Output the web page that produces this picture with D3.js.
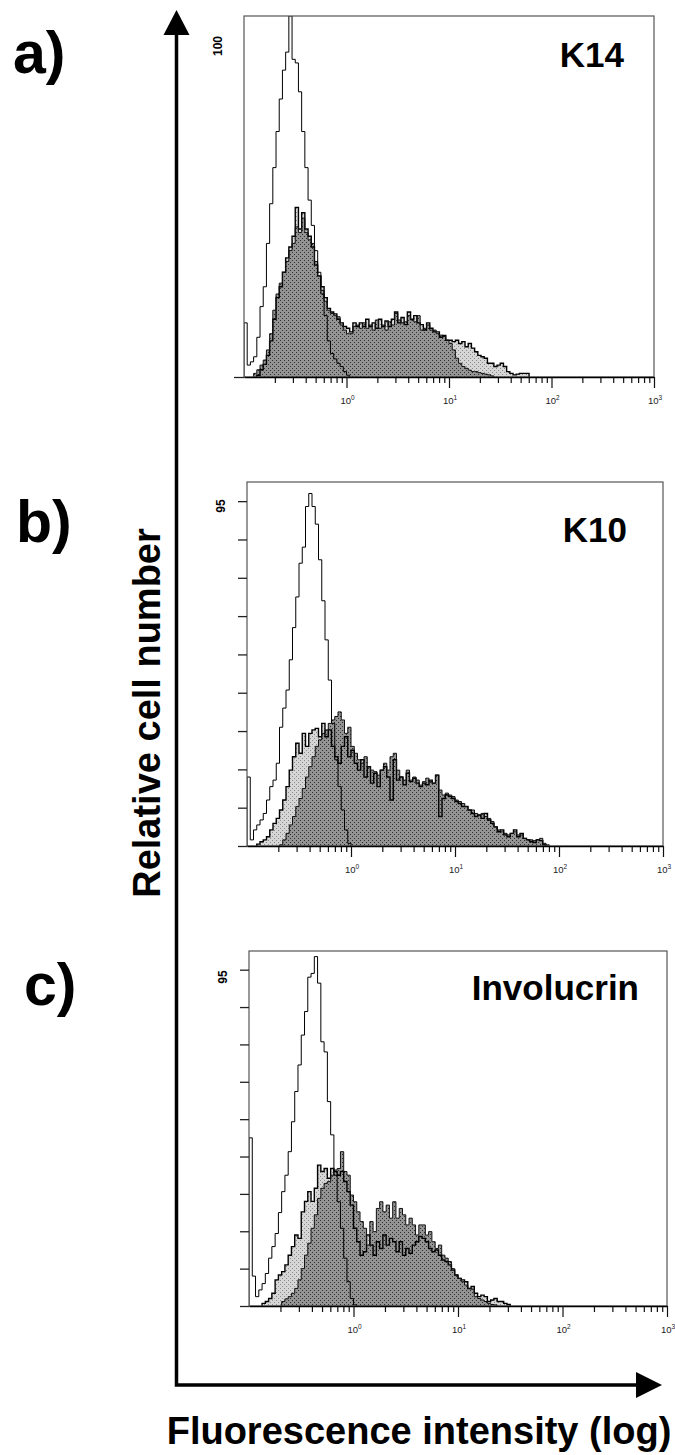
<!DOCTYPE html>
<html>
<head>
<meta charset="utf-8">
<script src="https://cdn.jsdelivr.net/npm/d3@7"></script>
<style>
  html, body { margin: 0; padding: 0; background: #fff; }
  svg { display: block; font-family: "Liberation Sans", Arial, Helvetica, sans-serif; }
</style>
</head>
<body>
<svg id="fig" width="675" height="1455"></svg>
<script>
// histogram channels: 32 per decade, channel 0 starts at 10^-1
const binsPerDecade = 32;
const firstExponent = -1;

// a) K14
const k14Open = [15, 3.3, 4.2, 5.6, 11, 19.5, 25, 37, 48, 58, 68, 77, 85, 90, 100, 88, 87, 79, 68, 58,
  49, 42, 35, 29, 23, 17, 10, 6.5, 5, 3.8, 2.9, 1.5, 0.5];
const k14Light = [0, 0, 0, 0, 0.5, 2, 3.5, 6, 10, 16, 22, 25, 29, 33, 36, 39, 47, 41, 45.5, 41,
  39, 36, 31, 28, 25, 22, 19, 18, 17.5, 16, 15, 14, 13.5, 12.5, 15, 14, 15, 14, 16, 14,
  15, 13.5, 16, 14, 15.5, 14, 16, 18, 15, 16.5, 14.5, 18, 16, 17, 15, 14.5, 13, 15, 13.5, 12.5,
  12.5, 11, 11.5, 10.2, 10.2, 9.8, 10.2, 9.3, 9.8, 8.4, 9.3, 8, 7, 6, 5.6, 5.2, 3.8, 3.8, 2.9, 3.3,
  3.8, 2.9, 1.5, 1, 0.6, 0.8, 1, 1, 1];
const k14Dark = [0, 0, 0, 1, 2, 3.3, 4.7, 7.5, 12, 18.5, 23, 26, 29, 32, 35, 37, 41.6, 40, 44, 40,
  38, 37, 32, 28, 24, 21, 18.5, 17.6, 17, 16.7, 14.4, 13, 12, 12, 14, 14.4, 13.5, 15, 13.5, 14.4,
  13, 15.8, 13.5, 14.4, 13, 15.3, 14.4, 17.6, 15.8, 15, 15.3, 17, 15.8, 15.3, 17, 13, 13.5, 14.4, 13, 13,
  12, 11.6, 11.2, 10.2, 9.3, 7.5, 5.2, 3.8, 2.9, 2.4, 1.9, 1.5, 1.5, 1.2, 1, 0.8, 0.6, 0.3];

// b) K10
const k10Open = [18, 1.6, 4.2, 5.5, 6.8, 8.5, 12, 15.5, 17.2, 21.6, 31, 36, 40.7, 48.6, 57, 65, 73.8, 78, 88.6, 92,
  88.6, 84, 74.7, 64, 53.8, 43.3, 32, 22.5, 15.5, 9.4, 4.2, 0.7];
const k10Light = [0, 0, 0, 0.5, 1.1, 1.6, 2.4, 4.2, 5.9, 7.2, 9.4, 12, 15.5, 19.8, 23.3, 26.8, 24.2, 29.4, 26, 29.4,
  30.3, 30.7, 28.5, 32, 28.5, 30.3, 26, 23.3, 21.6, 26, 28.5, 23.3, 25, 21.6, 19.8, 22.5, 18, 20.7, 16.4, 19,
  15.5, 19.8, 20.7, 18, 12, 22.5, 17.2, 18, 16, 19, 16.8, 17.7, 16.4, 15.5, 16.4, 16, 17.2, 16.4, 18.5, 7.7,
  12.4, 13.3, 12.9, 12.4, 11.6, 11.1, 10.3, 10.3, 9.4, 8.5, 7.7, 8.1, 7.2, 8.5, 6.8, 5.9, 5, 3.7, 4.2, 2.9,
  2.4, 3.3, 4.2, 2.4, 3.3, 2, 1.6, 1.1, 0.9, 1.6, 1.4, 0.3];
const k10Dark = [0, 0, 0, 0, 0, 0, 0, 0, 0, 0, 0.3, 1.6, 3.3, 5.5, 7.7, 10.3, 12.4, 15, 18, 20.7,
  23.3, 26, 27.7, 29.4, 30.3, 32, 32.9, 33.8, 35, 32.9, 29.4, 31, 26, 24.2, 22.5, 21.6, 23.3, 20.7, 19.8, 19.4,
  18.5, 19.8, 21.6, 19.8, 23.3, 24.2, 19.8, 18, 17.2, 19.8, 17.2, 18, 17.2, 15.9, 16.8, 17.7, 16.8, 16.4, 18.5, 14.6,
  13.3, 13.8, 13.3, 12.9, 12, 11.6, 11.1, 10.3, 9.4, 9.4, 8.5, 8.1, 8.5, 7.7, 7.2, 6.4, 5, 4.2, 3.7, 3.3,
  2.9, 3.3, 3.7, 2.9, 2.9, 2, 1.7, 1.6, 1.4, 1.7, 2, 0.7, 0.3];

// c) Involucrin
const invOpen = [45, 8, 2.5, 4.3, 6, 8.7, 12.8, 15.9, 19.4, 25, 30.6, 35, 41.3, 49.3, 57.4, 64.5, 72.5, 78.8, 88, 89,
  93.5, 86.4, 70.7, 68, 54.7, 45.8, 35, 27.9, 20.8, 12.8, 6.5, 2, 0.3];
const invLight = [0, 0, 0, 0, 0.7, 1.2, 2, 3.4, 7, 8.3, 9.2, 11, 13.6, 15.9, 19, 18.1, 25.2, 28, 30.6, 28,
  31.5, 37.7, 36, 36.8, 34.2, 36.8, 36, 35, 36, 33.3, 30.6, 27, 20.8, 17.2, 13.6, 14.5, 19, 16.3, 13.6, 17.2,
  15.4, 19, 16.3, 18.1, 17.2, 14.5, 17.2, 13.6, 15.4, 14.1, 16.3, 17.2, 18.6, 18.1, 17.2, 15.4, 14.5, 15, 13.6, 12.3,
  11.9, 11, 9.6, 8.3, 7.4, 7, 6.5, 4.7, 5.2, 3.4, 2.5, 2.9, 2.5, 1.2, 1.6, 2, 1.2, 1.2, 0.7, 0.4];
const invDark = [0, 0, 0, 0, 0, 0, 0, 0, 0, 0, 1.2, 1.9, 2.5, 3.4, 4.7, 7, 10, 13.6, 16.8, 20.8,
  24.4, 28.8, 31.5, 32.8, 33.3, 35, 36.4, 36.8, 41.3, 36, 35, 29.7, 27.9, 25.2, 22.6, 20.8, 16.3, 22.6, 19.9, 26.1,
  27.9, 25.2, 27, 23.5, 27.9, 23.5, 26.1, 24.4, 21.7, 23.5, 21.7, 19, 21.7, 21.7, 19, 19.9, 17.2, 15.4, 16.3, 13.6,
  12.8, 11.9, 10, 8.3, 7.4, 6.5, 5.6, 4.7, 4.5, 2.5, 2, 1.6, 1.2, 0.7, 0.4, 0.3];

const panelLetters = ['a)', 'b)', 'c)'];
const panelNames = ['K14', 'K10', 'Involucrin'];
const yMaxValues = [100, 95, 95];
const yTickValues = [0, 10, 20, 30, 40, 50, 60, 70, 80, 90];
const decadeTicks = [1, 10, 100, 1000];
const decadeLabels = ['0', '1', '2', '3'];
const xAxisTitle = 'Fluorescence intensity (log)';
const yAxisTitle = 'Relative cell number';

// layout of each panel (pixel box of the plot, label placement)
const layout = [
  {left: 244, right: 654, top: 16, bottom: 377, letterX: 13, letterY: 73, nameX: 624, nameY: 67, maxDy: 30, yTicks: false},
  {left: 247, right: 663, top: 482, bottom: 846, letterX: 16, letterY: 542, nameX: 627, nameY: 542, maxDy: 24, yTicks: true},
  {left: 249, right: 667, top: 951, bottom: 1306, letterX: 24, letterY: 1005, nameX: 639, nameY: 1000, maxDy: 26, yTicks: true}
];
const series = [
  {open: k14Open, light: k14Light, dark: k14Dark},
  {open: k10Open, light: k10Light, dark: k10Dark},
  {open: invOpen, light: invLight, dark: invDark}
];

const svg = d3.select('#fig');
const defs = svg.append('defs');

function dotPattern(id, bg, dot) {
  const p = defs.append('pattern').attr('id', id)
    .attr('width', 4).attr('height', 4).attr('patternUnits', 'userSpaceOnUse');
  p.append('rect').attr('width', 4).attr('height', 4).attr('fill', bg);
  p.append('rect').attr('x', 0).attr('y', 0).attr('width', 1).attr('height', 1).attr('fill', dot);
  p.append('rect').attr('x', 2).attr('y', 2).attr('width', 1).attr('height', 1).attr('fill', dot);
}
dotPattern('darkDots', '#949494', '#2e2e2e');
dotPattern('lightDots', '#d6d6d6', '#8a8a8a');

// turn channel counts into step points (closed at the baseline on both ends)
function histPoints(values) {
  const first = values.findIndex(v => v > 0);
  let last = values.length - 1;
  while (last > 0 && values[last] === 0) last--;
  const pts = [{e: firstExponent + first / binsPerDecade, v: 0}];
  for (let k = first; k <= last; k++) pts.push({e: firstExponent + k / binsPerDecade, v: values[k]});
  pts.push({e: firstExponent + (last + 1) / binsPerDecade, v: 0});
  return pts;
}

const minorTicks = [];
[0.1, 1, 10, 100].forEach(d => { for (let m = 2; m <= 9; m++) minorTicks.push(+(d * m).toPrecision(3)); });

layout.forEach((L, i) => {
  const x = d3.scaleLog().domain([0.1, 1000]).range([L.left, L.right]);
  const y = d3.scaleLinear().domain([0, yMaxValues[i]]).range([L.bottom, L.top]);
  const g = svg.append('g');

  defs.append('clipPath').attr('id', 'clip' + i)
    .append('rect').attr('x', L.left).attr('y', L.top)
    .attr('width', L.right - L.left).attr('height', L.bottom - L.top);

  const area = d3.area().curve(d3.curveStepAfter)
    .x(d => x(Math.pow(10, d.e))).y0(y(0)).y1(d => y(d.v));
  const line = d3.line().curve(d3.curveStepAfter)
    .x(d => x(Math.pow(10, d.e))).y(d => y(d.v));

  const s = series[i];
  const plot = g.append('g').attr('clip-path', `url(#clip${i})`);
  plot.append('path').attr('d', area(histPoints(s.light))).attr('fill', 'url(#lightDots)');
  plot.append('path').attr('d', area(histPoints(s.dark))).attr('fill', 'url(#darkDots)');
  plot.append('path').attr('d', line(histPoints(s.light)))
    .attr('fill', 'none').attr('stroke', '#000').attr('stroke-width', 1.4);
  plot.append('path').attr('d', line(histPoints(s.dark)))
    .attr('fill', 'none').attr('stroke', '#111').attr('stroke-width', 1);
  plot.append('path').attr('d', line(histPoints(s.open)))
    .attr('fill', 'none').attr('stroke', '#000').attr('stroke-width', 1);

  // frame
  g.append('rect').attr('x', L.left).attr('y', L.top)
    .attr('width', L.right - L.left).attr('height', L.bottom - L.top)
    .attr('fill', 'none').attr('stroke', '#555').attr('stroke-width', 1.2);

  // x axis: minor and decade ticks
  const minorAxis = d3.axisBottom(x).tickValues(minorTicks).tickSize(5).tickSizeOuter(0).tickFormat('');
  const gx = g.append('g').attr('transform', `translate(0,${L.bottom})`).call(minorAxis);
  gx.select('.domain').attr('stroke', '#000').attr('stroke-width', 1.5);
  gx.selectAll('.tick line').attr('stroke', '#111').attr('stroke-width', 1.2).attr('transform', 'translate(0,1)');
  const majorAxis = d3.axisBottom(x).tickValues(decadeTicks).tickSize(11).tickSizeOuter(0).tickFormat('');
  const gx2 = g.append('g').attr('transform', `translate(0,${L.bottom})`).call(majorAxis);
  gx2.select('.domain').remove();
  gx2.selectAll('.tick line').attr('stroke', '#111').attr('stroke-width', 1.2);

  decadeTicks.forEach((t, j) => {
    const lab = g.append('text').attr('x', x(t) + 1).attr('y', L.bottom + 27)
      .attr('text-anchor', 'middle').attr('font-size', 9.5).attr('fill', '#222');
    lab.append('tspan').text('10');
    lab.append('tspan').attr('dy', -4).attr('font-size', 6.5).text(decadeLabels[j]);
  });

  // y axis ticks
  const yAxis = d3.axisLeft(y).tickValues(L.yTicks ? yTickValues : [0]).tickSize(L.yTicks ? 9 : 10)
    .tickSizeOuter(0).tickFormat('');
  const gy = g.append('g').attr('transform', `translate(${L.left},0)`).call(yAxis);
  gy.select('.domain').remove();
  gy.selectAll('.tick line').attr('stroke', '#222').attr('stroke-width', 1.3);

  // max count label
  g.append('text').attr('transform', `translate(${L.left - 22},${L.top + L.maxDy}) rotate(-90)`)
    .attr('text-anchor', 'middle').attr('font-size', 12).attr('font-weight', 'bold')
    .text(yMaxValues[i]);

  // panel name and letter
  g.append('text').attr('x', L.nameX).attr('y', L.nameY).attr('text-anchor', 'end')
    .attr('font-size', 35).attr('font-weight', 'bold').text(panelNames[i]);
  svg.append('text').attr('x', L.letterX).attr('y', L.letterY)
    .attr('font-size', 59).attr('font-weight', 'bold').text(panelLetters[i]);
});

// big axis arrows
const axX = 176.5, axY = 1385, tipY = 10, tipX = 662;
svg.append('path').attr('d', `M${axX},${tipY + 20}V${axY}H${tipX - 20}`)
  .attr('fill', 'none').attr('stroke', '#000').attr('stroke-width', 3.5);
svg.append('path').attr('d', `M${axX},${tipY}L${axX + 13},${tipY + 25}L${axX - 13},${tipY + 25}Z`).attr('fill', '#000');
svg.append('path').attr('d', `M${tipX},${axY}L${tipX - 26},${axY - 13}L${tipX - 26},${axY + 13}Z`).attr('fill', '#000');

svg.append('text').attr('x', 419).attr('y', 1444).attr('text-anchor', 'middle')
  .attr('font-size', 38).attr('font-weight', 'bold').text(xAxisTitle);
svg.append('text').attr('transform', 'translate(160,713) rotate(-90)').attr('text-anchor', 'middle')
  .attr('font-size', 38).attr('font-weight', 'bold').text(yAxisTitle);
</script>
</body>
</html>
